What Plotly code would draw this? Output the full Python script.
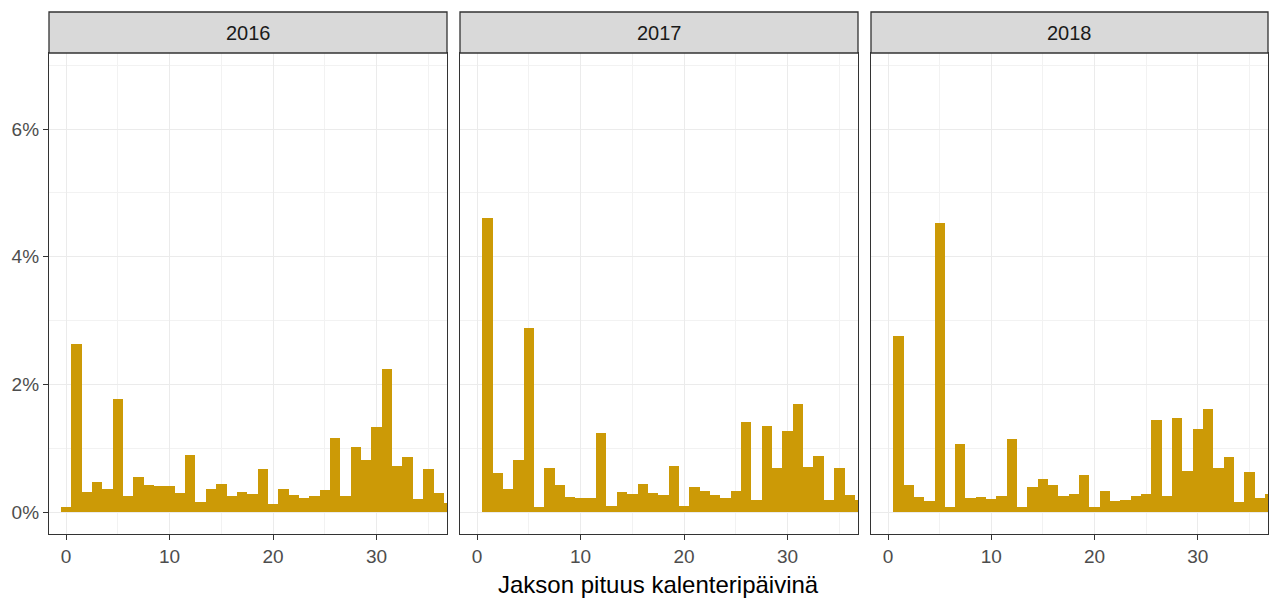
import plotly.graph_objects as go

days = list(range(0, 38))
years = ["2016", "2017", "2018"]

pct_2016 = [0.09, 2.63, 0.32, 0.48, 0.36, 1.78, 0.26, 0.55, 0.42, 0.41,
            0.41, 0.30, 0.89, 0.16, 0.36, 0.45, 0.25, 0.32, 0.29, 0.67,
            0.13, 0.36, 0.27, 0.22, 0.25, 0.35, 1.16, 0.26, 1.02, 0.82,
            1.34, 2.25, 0.72, 0.87, 0.21, 0.68, 0.30, 0.15]
pct_2017 = [0.00, 4.61, 0.61, 0.36, 0.82, 2.88, 0.08, 0.70, 0.43, 0.24,
            0.23, 0.22, 1.24, 0.10, 0.32, 0.29, 0.45, 0.30, 0.27, 0.73,
            0.10, 0.40, 0.33, 0.27, 0.23, 0.33, 1.42, 0.19, 1.35, 0.69,
            1.27, 1.69, 0.71, 0.88, 0.20, 0.70, 0.27, 0.20]
pct_2018 = [0.00, 2.76, 0.42, 0.24, 0.17, 4.53, 0.08, 1.07, 0.23, 0.24,
            0.21, 0.25, 1.15, 0.09, 0.40, 0.52, 0.43, 0.25, 0.29, 0.58,
            0.09, 0.33, 0.18, 0.20, 0.26, 0.29, 1.44, 0.25, 1.48, 0.65,
            1.30, 1.61, 0.70, 0.87, 0.16, 0.63, 0.22, 0.28]
series = [pct_2016, pct_2017, pct_2018]

y_ticks = [0, 2, 4, 6]
y_ticktext = ["0%", "2%", "4%", "6%"]
x_ticks = [0, 10, 20, 30]
x_title = "Jakson pituus kalenteripäivinä"

W, H = 1272, 599
ML, MR, MT, MB = 49, 4, 53, 65
PW = W - ML - MR
PH = H - MT - MB
panels_px = [(49, 447), (460, 858), (871, 1268)]
domains = [((a - ML) / PW, (b - ML) / PW) for a, b in panels_px]

BAR = "#CC9A06"
GRID = "#EBEBEB"
MINOR = "#F2F2F2"
BORDER = "#333333"
FONT = "Liberation Sans, Arial, sans-serif"
YR = [-0.34, 7.19]
XR = [-1.65, 36.8]

fig = go.Figure()
for i, (yr, vals) in enumerate(zip(years, series)):
    fig.add_trace(go.Bar(x=days, y=vals, width=1.0,
                         xaxis="x" if i == 0 else f"x{i+1}",
                         yaxis="y" if i == 0 else f"y{i+1}",
                         marker=dict(color=BAR, line=dict(width=0)),
                         showlegend=False, name=yr))

layout = dict(
    width=W, height=H,
    margin=dict(l=ML, r=MR, t=MT, b=MB),
    paper_bgcolor="white", plot_bgcolor="white",
    bargap=0,
    font=dict(family=FONT, size=19, color="#4D4D4D"),
)

for i in range(3):
    sx = "" if i == 0 else str(i + 1)
    layout["xaxis" + sx] = dict(
        domain=list(domains[i]), anchor="y" + sx,
        range=XR, tickvals=x_ticks,
        showgrid=True, gridcolor=GRID, gridwidth=1.2,
        minor=dict(tickvals=[5, 15, 25, 35], showgrid=True, gridcolor=MINOR, gridwidth=0.8),
        ticks="outside", ticklen=5, tickcolor=BORDER, tickwidth=1.3,
        showline=True, linecolor=BORDER, linewidth=1.3, mirror=True,
        zeroline=False, tickfont=dict(size=19, color="#4D4D4D"),
        fixedrange=True,
    )
    layout["yaxis" + sx] = dict(
        domain=[0, 1], anchor="x" + sx, range=YR,
        tickvals=y_ticks, ticktext=y_ticktext,
        showticklabels=(i == 0), ticks="outside" if i == 0 else "",
        ticklen=5, tickcolor=BORDER, tickwidth=1.3,
        showgrid=True, gridcolor=GRID, gridwidth=1.2,
        minor=dict(tickvals=[1, 3, 5, 7], showgrid=True, gridcolor=MINOR, gridwidth=0.8),
        showline=True, linecolor=BORDER, linewidth=1.3, mirror=True,
        zeroline=False, tickfont=dict(size=19, color="#4D4D4D"),
        fixedrange=True,
    )
fig.update_layout(**layout)

strip_top = 1 + (MT - 12) / PH
for i, yr in enumerate(years):
    d0, d1 = domains[i]
    fig.add_shape(type="rect", xref="paper", yref="paper",
                  x0=d0, x1=d1, y0=1, y1=strip_top,
                  fillcolor="#D9D9D9", line=dict(color=BORDER, width=1.3), layer="above")
    fig.add_annotation(x=(d0 + d1) / 2, y=(1 + strip_top) / 2, xref="paper", yref="paper",
                       text=yr, showarrow=False, xanchor="center", yanchor="middle",
                       font=dict(family=FONT, size=20, color="#1A1A1A"))

fig.add_annotation(x=(658.5 - ML) / PW, y=-(584 - (H - MB)) / PH, xref="paper", yref="paper",
                   text=x_title, showarrow=False, xanchor="center", yanchor="middle",
                   font=dict(family=FONT, size=24, color="#000000"))

fig.write_html("out.html", config={"displayModeBar": False},
               post_script="document.body.style.margin='0';document.body.style.padding='0';")
